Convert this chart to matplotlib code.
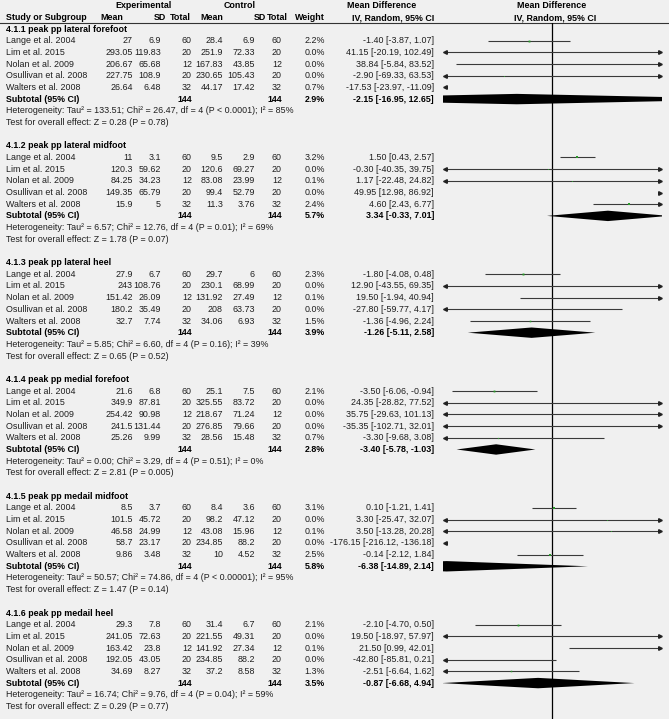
import numpy as np
import matplotlib.pyplot as plt
from matplotlib.patches import Polygon

plt.rcParams['font.family'] = ['Liberation Sans', 'DejaVu Sans']

studies = ['Lange et al. 2004', 'Lim et al. 2015', 'Nolan et al. 2009',
           'Osullivan et al. 2008', 'Walters et al. 2008']
n_exp = [60, 20, 12, 20, 32]
n_ctrl = [60, 20, 12, 20, 32]

group_titles = ['4.1.1 peak pp lateral forefoot', '4.1.2 peak pp lateral midfoot',
                '4.1.3 peak pp lateral heel', '4.1.4 peak pp medial forefoot',
                '4.1.5 peak pp medail midfoot', '4.1.6 peak pp medail heel']

exp_mean = [[27, 293.05, 206.67, 227.75, 26.64],
            [11, 120.3, 84.25, 149.35, 15.9],
            [27.9, 243, 151.42, 180.2, 32.7],
            [21.6, 349.9, 254.42, 241.5, 25.26],
            [8.5, 101.5, 46.58, 58.7, 9.86],
            [29.3, 241.05, 163.42, 192.05, 34.69]]
exp_sd = [[6.9, 119.83, 65.68, 108.9, 6.48],
          [3.1, 59.62, 34.23, 65.79, 5],
          [6.7, 108.76, 26.09, 35.49, 7.74],
          [6.8, 87.81, 90.98, 131.44, 9.99],
          [3.7, 45.72, 24.99, 23.17, 3.48],
          [7.8, 72.63, 23.8, 43.05, 8.27]]
ctrl_mean = [[28.4, 251.9, 167.83, 230.65, 44.17],
             [9.5, 120.6, 83.08, 99.4, 11.3],
             [29.7, 230.1, 131.92, 208, 34.06],
             [25.1, 325.55, 218.67, 276.85, 28.56],
             [8.4, 98.2, 43.08, 234.85, 10],
             [31.4, 221.55, 141.92, 234.85, 37.2]]
ctrl_sd = [[6.9, 72.33, 43.85, 105.43, 17.42],
           [2.9, 69.27, 23.99, 52.79, 3.76],
           [6, 68.99, 27.49, 63.73, 6.93],
           [7.5, 83.72, 71.24, 79.66, 15.48],
           [3.6, 47.12, 15.96, 88.2, 4.52],
           [6.7, 49.31, 27.34, 88.2, 8.58]]
weights = [[2.2, 0.0, 0.0, 0.0, 0.7],
           [3.2, 0.0, 0.1, 0.0, 2.4],
           [2.3, 0.0, 0.1, 0.0, 1.5],
           [2.1, 0.0, 0.0, 0.0, 0.7],
           [3.1, 0.0, 0.1, 0.0, 2.5],
           [2.1, 0.0, 0.1, 0.0, 1.3]]
md = [[-1.40, 41.15, 38.84, -2.90, -17.53],
      [1.50, -0.30, 1.17, 49.95, 4.60],
      [-1.80, 12.90, 19.50, -27.80, -1.36],
      [-3.50, 24.35, 35.75, -35.35, -3.30],
      [0.10, 3.30, 3.50, -176.15, -0.14],
      [-2.10, 19.50, 21.50, -42.80, -2.51]]
md_lo = [[-3.87, -20.19, -5.84, -69.33, -23.97],
         [0.43, -40.35, -22.48, 12.98, 2.43],
         [-4.08, -43.55, -1.94, -59.77, -4.96],
         [-6.06, -28.82, -29.63, -102.71, -9.68],
         [-1.21, -25.47, -13.28, -216.12, -2.12],
         [-4.70, -18.97, 0.99, -85.81, -6.64]]
md_hi = [[1.07, 102.49, 83.52, 63.53, -11.09],
         [2.57, 39.75, 24.82, 86.92, 6.77],
         [0.48, 69.35, 40.94, 4.17, 2.24],
         [-0.94, 77.52, 101.13, 32.01, 3.08],
         [1.41, 32.07, 20.28, -136.18, 1.84],
         [0.50, 57.97, 42.01, 0.21, 1.62]]

sub_weight = [2.9, 5.7, 3.9, 2.8, 5.8, 3.5]
sub_md = [-2.15, 3.34, -1.26, -3.40, -6.38, -0.87]
sub_lo = [-16.95, -0.33, -5.11, -5.78, -14.89, -6.68]
sub_hi = [12.65, 7.01, 2.58, -1.03, 2.14, 4.94]

het_text = ['Tau² = 133.51; Chi² = 26.47, df = 4 (P < 0.0001); I² = 85%',
            'Tau² = 6.57; Chi² = 12.76, df = 4 (P = 0.01); I² = 69%',
            'Tau² = 5.85; Chi² = 6.60, df = 4 (P = 0.16); I² = 39%',
            'Tau² = 0.00; Chi² = 3.29, df = 4 (P = 0.51); I² = 0%',
            'Tau² = 50.57; Chi² = 74.86, df = 4 (P < 0.00001); I² = 95%',
            'Tau² = 16.74; Chi² = 9.76, df = 4 (P = 0.04); I² = 59%']
z_text = ['Z = 0.28 (P = 0.78)', 'Z = 1.78 (P = 0.07)', 'Z = 0.65 (P = 0.52)',
          'Z = 2.81 (P = 0.005)', 'Z = 1.47 (P = 0.14)', 'Z = 0.29 (P = 0.77)']

W, H = 669, 719
XLIM = 6.6
fs = 6.4
txt = '#1e1e1e'
bg = '#f0f0f0'

fig = plt.figure(figsize=(W / 100, H / 100), dpi=100, facecolor=bg)
ax = fig.add_axes([0, 0, 1, 1])
ax.set_xlim(0, W)
ax.set_ylim(H, 0)
ax.axis('off')

# forest panel, y in same pixel units
fx0, fx1, fy0 = 443, 662, 23
fa = fig.add_axes([fx0 / W, 0, (fx1 - fx0) / W, (H - fy0) / H])
fa.set_xlim(-XLIM, XLIM)
fa.set_ylim(H, fy0)
fa.axis('off')
fa.patch.set_alpha(0)


def t(x, y, s, ha='left', bold=False):
    ax.text(x, y, s, ha=ha, va='center', fontsize=fs, color='black' if bold else txt,
            fontweight='bold' if bold else 'normal')


# header
t(143, 6, 'Experimental', 'center', True)
t(240, 6, 'Control', 'center', True)
t(382, 6, 'Mean Difference', 'center', True)
t(552, 6, 'Mean Difference', 'center', True)
t(6, 17.5, 'Study or Subgroup', bold=True)
for x, s in [(123, 'Mean'), (166, 'SD'), (191, 'Total'), (223, 'Mean'),
             (266, 'SD'), (288, 'Total'), (325, 'Weight'), (434, 'IV, Random, 95% CI')]:
    t(x, 17.5, s, 'right', True)
t(555, 17.5, 'IV, Random, 95% CI', 'center', True)
ax.plot([0, W], [23, 23], color='#333333', lw=0.8)

fa.axvline(0, color='black', lw=0.9)

row_h = 11.68
for g in range(6):
    y0 = 29 + g * 10 * row_h
    t(6, y0, group_titles[g], bold=True)
    for i in range(5):
        y = y0 + (i + 1) * row_h
        t(6, y, studies[i])
        t(133, y, f'{exp_mean[g][i]:g}', 'right')
        t(161, y, f'{exp_sd[g][i]:g}', 'right')
        t(192, y, f'{n_exp[i]}', 'right')
        t(223, y, f'{ctrl_mean[g][i]:g}', 'right')
        t(255, y, f'{ctrl_sd[g][i]:g}', 'right')
        t(282, y, f'{n_ctrl[i]}', 'right')
        t(325, y, f'{weights[g][i]:.1f}%', 'right')
        t(434, y, f'{md[g][i]:.2f} [{md_lo[g][i]:.2f}, {md_hi[g][i]:.2f}]', 'right')

        lo, hi = md_lo[g][i], md_hi[g][i]
        a, b = max(lo, -XLIM), min(hi, XLIM)
        if a < b:
            fa.plot([a, b], [y, y], color='#3a3a3a', lw=0.8, solid_capstyle='butt')
        if lo < -XLIM:
            fa.plot([-XLIM + 0.12], [y], marker='<', ms=2.6, color='#222222', clip_on=False)
        if hi > XLIM:
            fa.plot([XLIM - 0.12], [y], marker='>', ms=2.6, color='#222222', clip_on=False)
        if -XLIM < md[g][i] < XLIM:
            fa.plot([md[g][i]], [y], marker='s', ms=0.6 + 0.35 * weights[g][i],
                    color='#2a9a2a', mew=0)

    ys = y0 + 6 * row_h
    t(6, ys, 'Subtotal (95% CI)', bold=True)
    t(192, ys, str(sum(n_exp)), 'right', True)
    t(282, ys, str(sum(n_ctrl)), 'right', True)
    t(325, ys, f'{sub_weight[g]:.1f}%', 'right', True)
    t(434, ys, f'{sub_md[g]:.2f} [{sub_lo[g]:.2f}, {sub_hi[g]:.2f}]', 'right', True)
    dh = 5.2
    fa.add_patch(Polygon([(sub_lo[g], ys), (sub_md[g], ys - dh), (sub_hi[g], ys),
                          (sub_md[g], ys + dh)], closed=True, color='black', lw=0))

    t(6, y0 + 7 * row_h, 'Heterogeneity: ' + het_text[g])
    t(6, y0 + 8 * row_h, 'Test for overall effect: ' + z_text[g])

fig.savefig('out.png', dpi=100, facecolor=bg)
